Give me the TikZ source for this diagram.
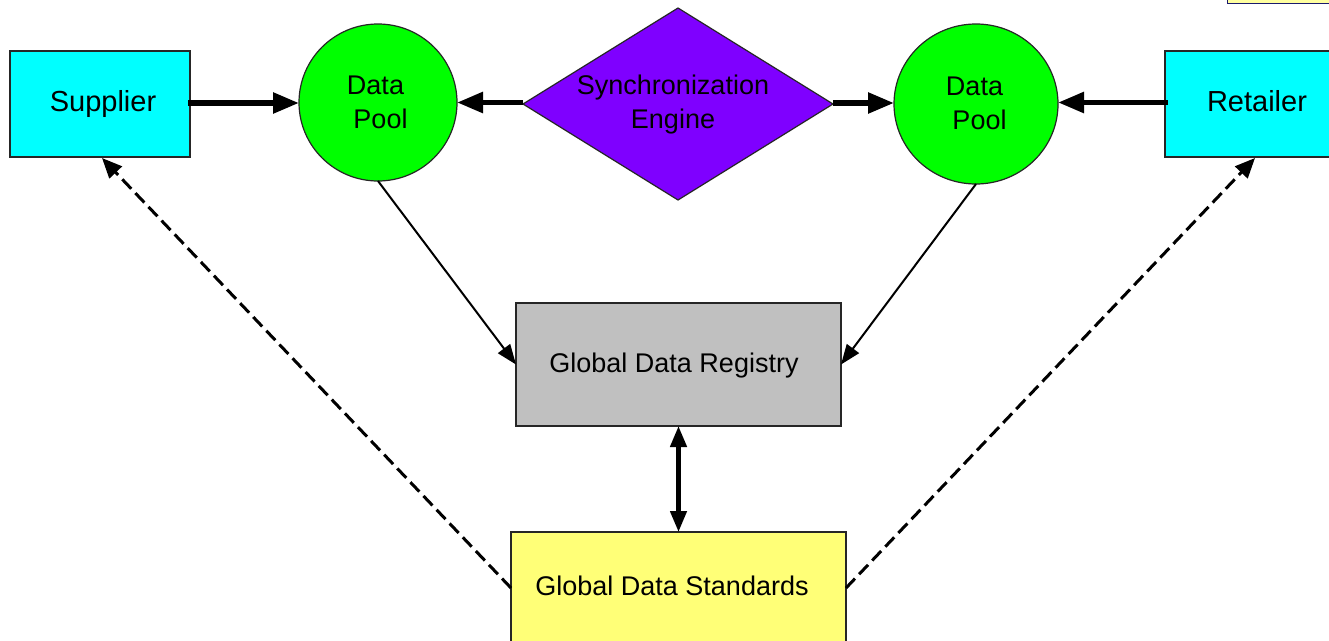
\documentclass[tikz,border=0pt]{standalone}
\usepackage{fontspec}
\setmainfont{Liberation Sans}
\usetikzlibrary{arrows.meta,shapes.geometric}
\definecolor{cy}{HTML}{00FFFF}
\definecolor{gr}{HTML}{00FF00}
\definecolor{pu}{HTML}{7F00FF}
\definecolor{gy}{HTML}{C0C0C0}
\definecolor{ye}{HTML}{FFFF77}
\definecolor{ye2}{HTML}{FFFFA0}
\definecolor{nv}{HTML}{1A1A6E}
\tikzset{
 x=1pt,y=-1pt,
 shapebox/.style={draw=black!85,line width=1.2pt,inner sep=0pt,outer sep=0pt},
 boxnode/.style={shapebox,rectangle},
 roundnode/.style={shapebox,ellipse,fill=gr},
 lbl/.style={inner sep=0pt,font=\fontsize{27}{34}\selectfont,align=center,text=black},
 lblwide/.style={inner sep=0pt,font=\fontsize{29}{34}\selectfont,align=center,text=black},
 heavy/.style={line width=5.5pt,-{Triangle[length=26pt,width=20pt]}},
 medium/.style={line width=4.5pt,{Triangle[length=21pt,width=16pt]}-{Triangle[length=21pt,width=16pt]}},
 thin arrow/.style={line width=2pt,-{Triangle[length=20pt,width=15pt]}},
 dash arrow/.style={line width=3pt,dash pattern=on 13pt off 6pt,-{Triangle[length=20pt,width=17pt]}},
}
\begin{document}
\begin{tikzpicture}
\useasboundingbox (0,0) rectangle (1329,640);
\fill[white] (0,0) rectangle (1329,640);
\node[boxnode,fill=ye2,draw=nv,line width=1.4pt,minimum width=110pt,minimum height=20pt,anchor=south west] (corner) at (1227.5,3.3) {};
\node[boxnode,fill=cy,minimum width=180pt,minimum height=106pt] (sup) at (100,104) {};
\node[boxnode,fill=cy,minimum width=180pt,minimum height=106pt,anchor=west] (ret) at (1165,104) {};
\node[roundnode,minimum width=158pt,minimum height=157pt] (p1) at (378,102.5) {};
\node[roundnode,minimum width=164pt,minimum height=160pt] (p2) at (976,104) {};
\node[shapebox,diamond,fill=pu,aspect=1.61,minimum width=310pt,minimum height=192pt] (eng) at (678,104) {};
\node[boxnode,fill=gy,minimum width=325pt,minimum height=123pt] (reg) at (678.5,364.5) {};
\node[boxnode,fill=ye,minimum width=335pt,minimum height=130pt,anchor=north] (std) at (678.5,532) {};
\node[lblwide] (t1) at (103,104) {Supplier};
\node[lblwide] (t2) at (1257,101) {Retailer};
\node[lbl] (t3) at (378,102.5) {\hspace*{-5pt}Data\\\hspace*{5pt}Pool};
\node[lbl] (t4) at (976,103) {\hspace*{-3pt}Data\\\hspace*{7pt}Pool};
\node[lbl] (t5) at (673,104.5) {Synchronization\\Engine};
\node[lbl] (t6) at (674,366) {Global Data Registry};
\node[lbl] (t7) at (672,586) {Global Data Standards};
\coordinate (a1) at (188,103);
\coordinate (a2) at (299,103);
\coordinate (a3) at (523,102.5);
\coordinate (a4) at (457,102.5);
\coordinate (a5) at (833,103);
\coordinate (a6) at (894,103);
\coordinate (a7) at (1168,102.5);
\coordinate (a8) at (1058,102.5);
\coordinate (a9) at (511,588);
\coordinate (a10) at (846,588);
\coordinate (a11) at (102,158);
\coordinate (a12) at (1255,158);
\draw[heavy] (a1) -- (a2);
\draw[heavy] (a3) -- (a4);
\draw[heavy] (a5) -- (a6);
\draw[heavy] (a7) -- (a8);
\draw[thin arrow] (p1.south) -- (reg.west);
\draw[thin arrow] (p2.south) -- (reg.east);
\draw[medium] (reg.south) -- (std.north);
\draw[dash arrow] (a9) -- (a11);
\draw[dash arrow] (a10) -- (a12);
\end{tikzpicture}
\end{document}
